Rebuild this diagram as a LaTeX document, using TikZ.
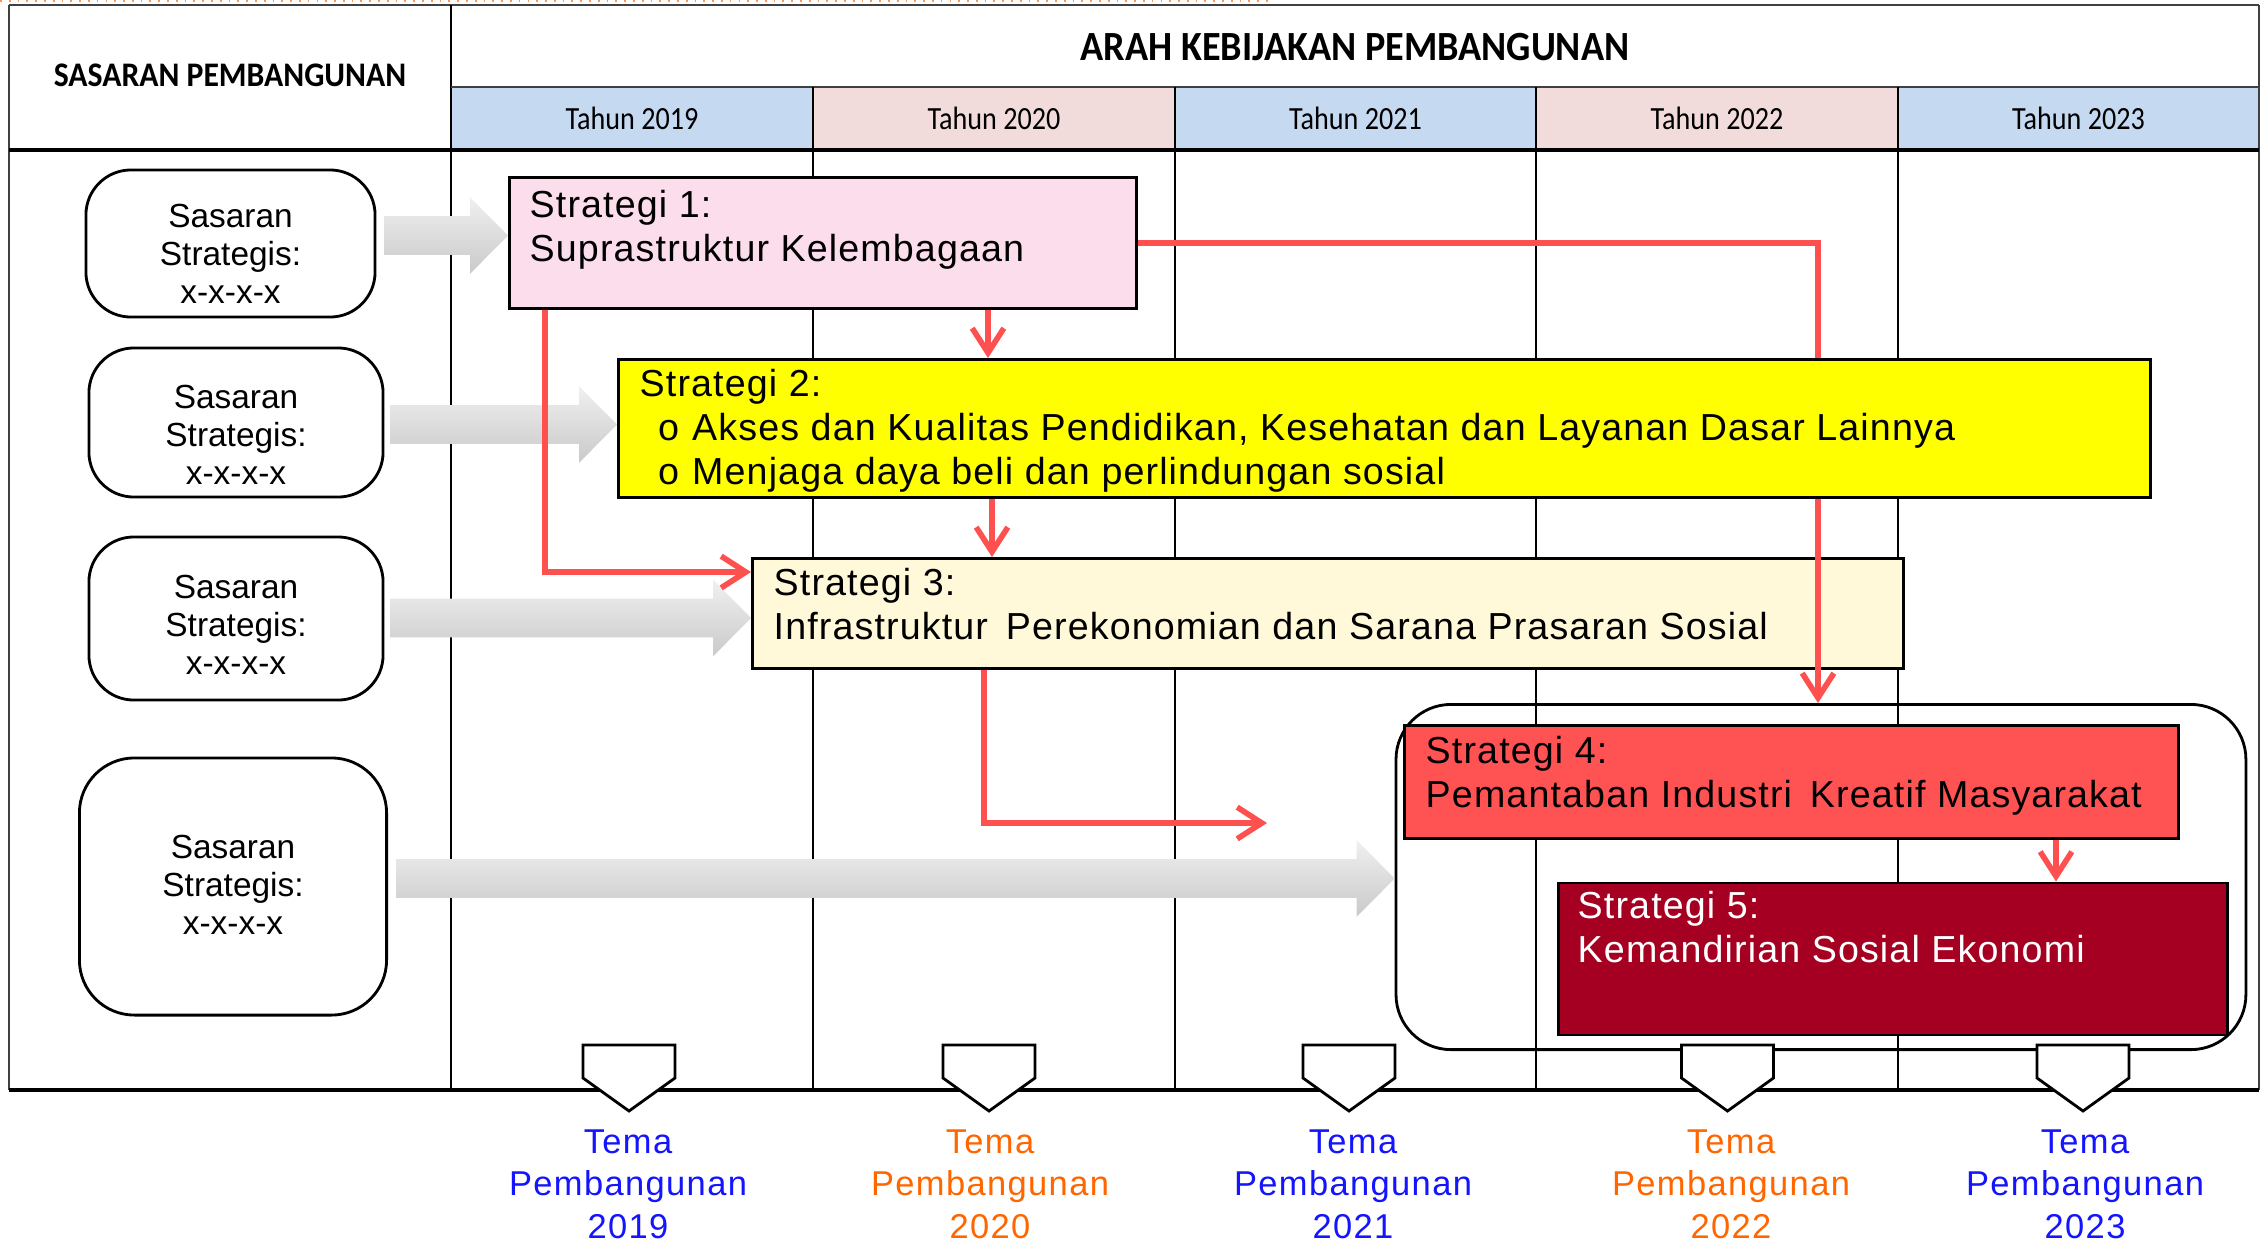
\documentclass[tikz,border=0pt]{standalone}
\usepackage{fontspec}
\setmainfont{Liberation Sans}
\newfontfamily\stfont{Liberation Sans}[LetterSpace=3]
\newfontfamily\temafont{Liberation Sans}[LetterSpace=4]
\newfontfamily\bulfont{Liberation Mono}
\newfontfamily\hdrfont{Carlito}[FakeStretch=0.92]
\newfontfamily\yrfont{Carlito}[FakeStretch=0.87]
\usetikzlibrary{arrows.meta,calc}
\definecolor{yrblue}{RGB}{197,217,241}
\definecolor{yrpink}{RGB}{242,220,219}
\definecolor{sonepink}{RGB}{251,221,235}
\definecolor{stwoyellow}{RGB}{255,255,0}
\definecolor{sthreecream}{RGB}{255,249,217}
\definecolor{sfourred}{RGB}{255,83,83}
\definecolor{sfivedark}{RGB}{165,0,33}
\definecolor{redline}{RGB}{255,80,80}
\definecolor{temablue}{RGB}{20,20,255}
\definecolor{temaorange}{RGB}{255,102,0}
\definecolor{framegray}{RGB}{64,64,64}
\tikzset{
  sbox/.style={draw=black, line width=0.8pt, anchor=north west, inner sep=0pt},
  stext/.style={anchor=north west, inner sep=0pt, align=left, font=\stfont\fontsize{10.7}{12.5}\selectfont},
  sasbox/.style={draw=black, line width=0.8pt, rounded corners=0.45cm, align=center, inner sep=0pt, font=\fontsize{9.5}{10.8}\selectfont},
  redarrow/.style={draw=redline, line width=1.6pt, -{Straight Barb[length=7pt,width=9pt]}},
  garrow/.style={top color=gray!12, bottom color=gray!42, draw=none},
  pent/.style={draw=black, line width=0.8pt, fill=white},
  tema/.style={anchor=north, align=center, inner sep=0pt, font=\temafont\fontsize{9.8}{12.1}\selectfont},
  yr/.style={font=\yrfont\fontsize{9.2}{11}\selectfont, inner sep=0pt},
  thinline/.style={draw=black, line width=0.4pt},
}
\newcommand\gblock[2]{%
  \shade[garrow] let \p1=#1, \p2=#2 in
   (\x1,\y2+5.5pt) -- (\x2-10.8pt,\y2+5.5pt) -- (\x2-10.8pt,\y2+10.9pt) -- (\x2,\y2)
   -- (\x2-10.8pt,\y2-10.9pt) -- (\x2-10.8pt,\y2-5.5pt) -- (\x1,\y2-5.5pt) -- cycle;}
\begin{document}
\begin{tikzpicture}[x=0.01cm, y=-0.01cm]
\useasboundingbox (0,0) rectangle (2267,1242);
\fill[white] (0,0) rectangle (2267,1242);
% top dotted artefact
\draw[temaorange!70, dotted, line width=0.5pt] (0,1) -- (1270,1);
% ---------- table ----------
\fill[yrblue] (451,87) rectangle (813,150);
\fill[yrpink] (813,87) rectangle (1175,150);
\fill[yrblue] (1175,87) rectangle (1536,150);
\fill[yrpink] (1536,87) rectangle (1898,150);
\fill[yrblue] (1898,87) rectangle (2259,150);
\draw[framegray, line width=0.7pt] (8.7,5) -- (2259,5);
\draw[framegray, line width=0.5pt] (8.7,5) -- (8.7,1090);
\draw[framegray, line width=0.5pt] (2259,5) -- (2259,1090);
\draw[thinline] (451,5) -- (451,1090);
\draw[framegray, line width=0.4pt] (451,87) -- (2259,87);
\foreach \cx in {813,1175,1536,1898} { \draw[thinline] (\cx,87) -- (\cx,1090); }
\draw[black, line width=0.9pt] (8.7,150) -- (2259,150);
\draw[black, line width=1pt] (8.7,1090) -- (2259,1090);
% headers
\node[font=\hdrfont\bfseries\fontsize{9.8}{12}\selectfont] (sasaranhdr) at (230,75) {SASARAN PEMBANGUNAN};
\node[font=\hdrfont\bfseries\fontsize{11.8}{14}\selectfont] (arahhdr) at (1355,47) {ARAH KEBIJAKAN PEMBANGUNAN};
\node[yr] (y2019) at (632,118.5) {Tahun 2019};
\node[yr] (y2020) at (994,118.5) {Tahun 2020};
\node[yr] (y2021) at (1355.5,118.5) {Tahun 2021};
\node[yr] (y2022) at (1717,118.5) {Tahun 2022};
\node[yr] (y2023) at (2078.5,118.5) {Tahun 2023};
% ---------- sasaran boxes ----------
\node[sasbox, minimum width=2.89cm, minimum height=1.47cm] (sas1) at (230.5,243.5) {\rule{0pt}{12.6pt}Sasaran\\Strategis:\\x-x-x-x};
\node[sasbox, minimum width=2.94cm, minimum height=1.49cm] (sas2) at (236,422.5) {\rule{0pt}{13.4pt}Sasaran\\Strategis:\\x-x-x-x};
\node[sasbox, minimum width=2.94cm, minimum height=1.63cm] (sas3) at (236,618.5) {\rule{0pt}{10.2pt}Sasaran\\Strategis:\\x-x-x-x};
\node[sasbox, rounded corners=0.55cm, minimum width=3.07cm, minimum height=2.57cm] (sas4) at (233,886.5) {Sasaran\\Strategis:\\x-x-x-x\rule[-1.2pt]{0pt}{1pt}};
% ---------- group container ----------
\node[draw=black, line width=0.8pt, rounded corners=0.55cm, anchor=north west, inner sep=0pt,
      minimum width=8.494cm, minimum height=3.45cm] (grp) at (1394.6,703) {};
% helper coordinates
\coordinate (xa) at (988,0);
\coordinate (xb) at (992,0);
\coordinate (xc) at (545,0);
\coordinate (yc) at (0,572);
\coordinate (xd) at (1818,0);
\coordinate (xe) at (984,0);
\coordinate (eend) at (1267,823);
\coordinate (xf) at (2056,0);
\coordinate (ya1) at (0,235.5);
\coordinate (ya2) at (0,424.5);
\coordinate (ya3) at (0,618);
\coordinate (ya4) at (0,878.5);
% ---------- strategy 1 and 3 ----------
\node[sbox, fill=sonepink, minimum width=6.27cm, minimum height=1.31cm] (S1) at (508,176) {};
\node[stext] (S1t) at (529,190) {Strategi 1:\\Suprastruktur Kelembagaan};
\node[sbox, fill=sthreecream, minimum width=11.50cm, minimum height=1.10cm] (S3) at (751,557) {};
\node[stext] (S3t) at (773,568) {Strategi 3:\\Infrastruktur\, Perekonomian dan Sarana Prasaran Sosial};
% line from S1 to group (passes under S2, over S3)
\draw[redarrow] (S1.east) -| (xd |- grp.north);
% ---------- strategy 2 ----------
\node[sbox, fill=stwoyellow, minimum width=15.31cm, minimum height=1.38cm] (S2) at (617,358) {};
\node[stext] (S2t) at (639,369) {Strategi 2:\\
  \hspace*{5pt}{\bulfont o}\hspace{3.5pt}Akses dan Kualitas Pendidikan, Kesehatan dan Layanan Dasar Lainnya\\
  \hspace*{5pt}{\bulfont o}\hspace{3.5pt}Menjaga daya beli dan perlindungan sosial};
% ---------- gray block arrows ----------
\gblock{($(sas1.east)+(8,0)$)}{(S1.west |- ya1)}
\gblock{($(sas2.east)+(6,0)$)}{(S2.west |- ya2)}
\gblock{($(sas3.east)+(6,0)$)}{(S3.west |- ya3)}
\gblock{($(sas4.east)+(8,0)$)}{(grp.west |- ya4)}
% ---------- red connectors ----------
\draw[redarrow] (S1.south -| xa) -- (S2.north -| xa);
\draw[redarrow] (S2.south -| xb) -- (S3.north -| xb);
\draw[redarrow] (S1.south -| xc) |- (S3.west |- yc);
\draw[redarrow] (S3.south -| xe) |- (eend);
% ---------- strategy 4 and 5 ----------
\node[sbox, fill=sfourred, minimum width=7.74cm, minimum height=1.13cm] (S4) at (1403,724) {};
\node[stext] (S4t) at (1425,736) {Strategi 4:\\Pemantaban Industri\, Kreatif Masyarakat};
\node[sbox, fill=sfivedark, minimum width=6.685cm, minimum height=1.52cm] (S5) at (1557,881.5) {};
\node[stext, text=white] (S5t) at (1577,891) {Strategi 5:\\Kemandirian Sosial Ekonomi};
\draw[redarrow] (S4.south -| xf) -- (S5.north -| xf);
% ---------- pentagons ----------
\foreach \cx in {629,989,1349,1727.5,2083} {
  \draw[pent] (\cx-46,1045) -- (\cx+46,1045) -- (\cx+46,1078) -- (\cx,1111) -- (\cx-46,1078) -- cycle;
}
% ---------- tema labels ----------
\node[tema, text=temablue] (tema1) at (628,1129) {Tema\\Pembangunan\\2019};
\node[tema, text=temaorange] (tema2) at (990,1129) {Tema\\Pembangunan\\2020};
\node[tema, text=temablue] (tema3) at (1353,1129) {Tema\\Pembangunan\\2021};
\node[tema, text=temaorange] (tema4) at (1731,1129) {Tema\\Pembangunan\\2022};
\node[tema, text=temablue] (tema5) at (2085,1129) {Tema\\Pembangunan\\2023};
\end{tikzpicture}
\end{document}
